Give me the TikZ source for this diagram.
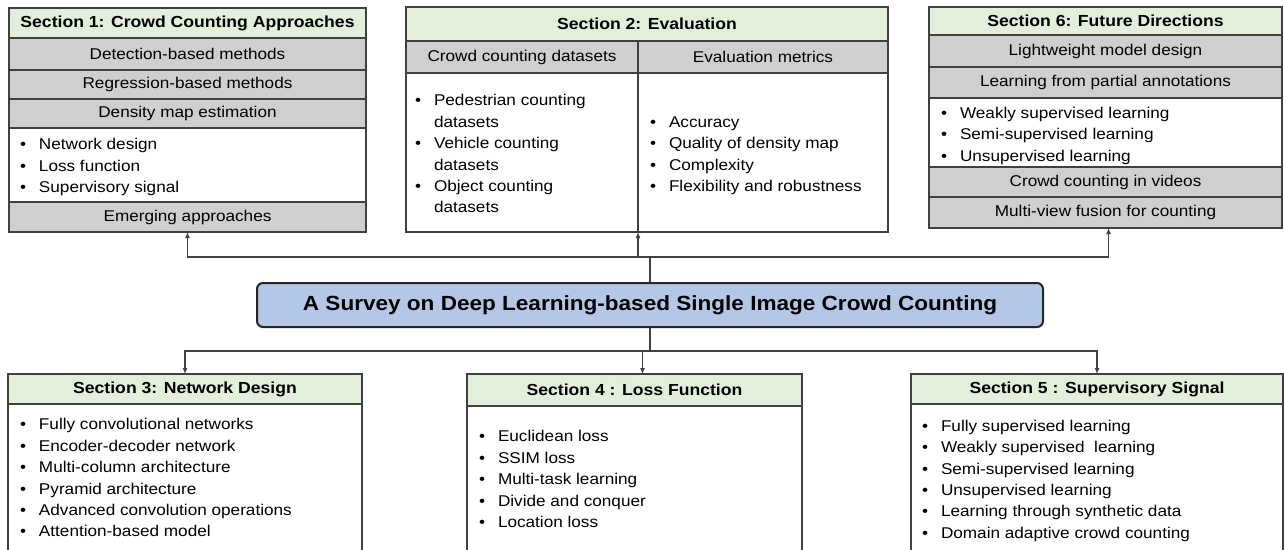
\documentclass[tikz,border=0pt]{standalone}
\usepackage{fontspec}
\setmainfont{Liberation Sans}[FakeStretch=1.1]
\usetikzlibrary{arrows.meta, positioning}
\definecolor{headgreen}{RGB}{226, 239, 218}
\definecolor{rowgray}{RGB}{208, 206, 206}
\definecolor{titleblue}{RGB}{180, 199, 231}
\definecolor{edgegray}{RGB}{64, 64, 64}
\newcommand{\bodyfont}{\fontsize{15.6}{21.4}\selectfont}
\newcommand{\blt}{\makebox[19pt][l]{\textbullet}}
\newcommand{\hang}{\makebox[19pt]{}}
% height, width, top gap, lines
\newcommand{\listtext}[4]{\parbox[c][#1][t]{#2}{\bodyfont\raggedright\vspace*{#3}#4}}

\begin{document}
\begin{tikzpicture}[x=1pt, y=-1pt,
  cell/.style={draw=edgegray, line width=1.2pt, inner sep=0pt, outer sep=0pt, anchor=north west, align=center},
  headcell/.style={cell, fill=headgreen, font=\fontsize{16}{19}\selectfont\bfseries},
  graycell/.style={cell, fill=rowgray, font=\bodyfont},
  listcell/.style={cell, fill=white, inner xsep=11pt},
  link/.style={draw=edgegray, line width=1.2pt},
  arr/.style={link, -{Latex[length=6pt, width=5pt]}}
]
  \useasboundingbox (0,0) rectangle (1284,549);
  \clip (0,0) rectangle (1284,549);
  \fill[white] (0,0) rectangle (1284,549);

  % Central node
  \node[draw=black!85, line width=2pt, fill=titleblue, rounded corners=6pt, minimum width=786pt, minimum height=44pt, inner sep=0pt, font=\fontsize{20.5}{24}\selectfont\bfseries] (title) at (650,305) {A Survey on Deep Learning-based Single Image Crowd Counting};

  % Section 1
  \node[headcell, minimum width=357pt, minimum height=30pt] (s1head) at (9,8) {Section 1: Crowd Counting Approaches};
  \node[graycell, minimum width=357pt, minimum height=32pt, below=0pt of s1head] (s1det) {Detection-based methods};
  \node[graycell, minimum width=357pt, minimum height=29pt, below=0pt of s1det] (s1reg) {Regression-based methods};
  \node[graycell, minimum width=357pt, minimum height=29pt, below=0pt of s1reg] (s1dens) {Density map estimation};
  \node[listcell, below=0pt of s1dens] (s1list) {\listtext{74pt}{335pt}{10.5pt}{%
    \blt Network design\\ \blt Loss function\\ \blt Supervisory signal}};
  \node[graycell, minimum width=357pt, minimum height=30pt, below=0pt of s1list] (s1emerg) {Emerging approaches};

  % Section 2
  \node[headcell, minimum width=482pt, minimum height=34pt] (s2head) at (406,7) {Section 2: Evaluation};
  \node[graycell, minimum width=232pt, minimum height=32pt] (s2data) at (s2head.south west) {Crowd counting datasets};
  \node[graycell, minimum width=250pt, minimum height=32pt, right=0pt of s2data] (s2metric) {Evaluation metrics};
  \node[listcell, inner xsep=9pt] (s2dlist) at (s2data.south west) {\listtext{159pt}{214pt}{21.5pt}{%
    \blt Pedestrian counting\\ \hang datasets\\ \blt Vehicle counting\\ \hang datasets\\
    \blt Object counting\\ \hang datasets}};
  \node[listcell, inner xsep=12pt] (s2mlist) at (s2metric.south west) {\listtext{159pt}{226pt}{43.5pt}{%
    \blt Accuracy\\ \blt Quality of density map\\ \blt Complexity\\ \blt Flexibility and robustness}};

  % Section 6
  \node[headcell, minimum width=353pt, minimum height=28pt] (s6head) at (929,7) {Section 6: Future Directions};
  \node[graycell, minimum width=353pt, minimum height=32pt, below=0pt of s6head] (s6light) {Lightweight model design};
  \node[graycell, minimum width=353pt, minimum height=31pt, below=0pt of s6light] (s6part) {Learning from partial annotations};
  \node[listcell, inner xsep=12pt, below=0pt of s6part] (s6list) {\listtext{69pt}{329pt}{9pt}{%
    \blt Weakly supervised learning\\ \blt Semi-supervised learning\\ \blt Unsupervised learning}};
  \node[graycell, minimum width=353pt, minimum height=30pt, below=0pt of s6list] (s6video) {Crowd counting in videos};
  \node[graycell, minimum width=353pt, minimum height=31pt, below=0pt of s6video] (s6multi) {Multi-view fusion for counting};

  % Section 3
  \node[headcell, minimum width=354pt, minimum height=30pt] (s3head) at (8,374) {Section 3: Network Design};
  \node[listcell, inner xsep=12pt, below=0pt of s3head] (s3list) {\listtext{170pt}{330pt}{14.5pt}{%
    \blt Fully convolutional networks\\ \blt Encoder-decoder network\\ \blt Multi-column architecture\\
    \blt Pyramid architecture\\ \blt Advanced convolution operations\\ \blt Attention-based model}};

  % Section 4
  \node[headcell, minimum width=335pt, minimum height=32pt] (s4head) at (467,374) {Section 4 : Loss Function};
  \node[listcell, inner xsep=12pt, below=0pt of s4head] (s4list) {\listtext{170pt}{311pt}{24.5pt}{%
    \blt Euclidean loss\\ \blt SSIM loss\\ \blt Multi-task learning\\ \blt Divide and conquer\\ \blt Location loss}};

  % Section 5
  \node[headcell, minimum width=372pt, minimum height=30pt] (s5head) at (911,374) {Section 5 : Supervisory Signal};
  \node[listcell, inner xsep=11pt, below=0pt of s5head] (s5list) {\listtext{170pt}{350pt}{16pt}{%
    \blt Fully supervised learning\\ \blt Weakly supervised~ learning\\ \blt Semi-supervised learning\\
    \blt Unsupervised learning\\ \blt Learning through synthetic data\\ \blt Domain adaptive crowd counting}};

  % Connectors
  \coordinate (tj) at (650,257);
  \coordinate (bj) at (650,351);
  \draw[link] (title.north) -- (tj);
  \draw[arr] (tj) -| (s1emerg.south);
  \draw[arr] (tj) -| (s2dlist.south east);
  \draw[arr] (tj) -| ([xshift=3pt]s6multi.south);
  \draw[link] (title.south) -- (bj);
  \draw[arr] (bj) -| (s3head.north);
  \draw[arr] (bj) -| ([xshift=8pt]s4head.north);
  \draw[arr] (bj) -| (s5head.north);
\end{tikzpicture}
\end{document}
